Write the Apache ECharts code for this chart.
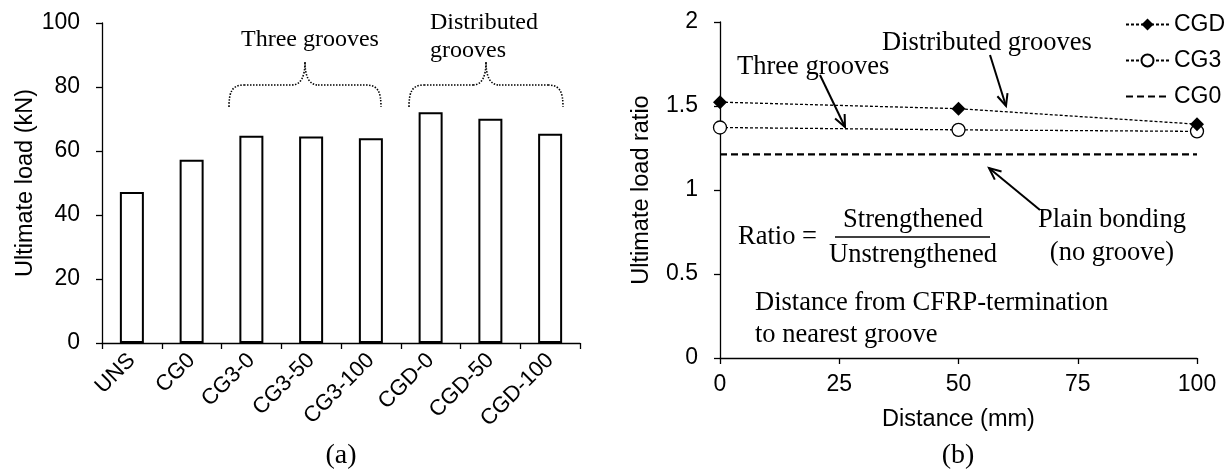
<!DOCTYPE html>
<html>
<head>
    <meta charset="utf-8">
    <title>Ultimate load / load ratio</title>
    <script src="https://cdn.jsdelivr.net/npm/echarts@6/dist/echarts.min.js"></script>
</head>
<body style="margin:0;background:#fff;">
    <div id="chart" style="width:1225px;height:473px;"></div>

    <script>
        // (a) ultimate load of each specimen
        const specimens = ['UNS', 'CG0', 'CG3-0', 'CG3-50', 'CG3-100', 'CGD-0', 'CGD-50', 'CGD-100'];
        const ultimateLoad = [47.2, 57.3, 64.8, 64.5, 64.0, 72.1, 70.1, 65.4];

        // (b) ultimate load ratio vs distance
        const distances = [0, 50, 100];
        const ratioCGD = [1.523, 1.484, 1.392];
        const ratioCG3 = [1.372, 1.358, 1.349];
        const ratioCG0 = 1.212;

        const sans = '"Liberation Sans", Arial, sans-serif';
        const serif = '"Liberation Serif", "Times New Roman", serif';

        const chart = echarts.init(document.getElementById('chart'));

        const axisCommon = {
            axisLine: { show: true, lineStyle: { color: '#000', width: 1.3 } },
            axisTick: { show: true, length: 6, lineStyle: { color: '#000', width: 1.3 } },
            splitLine: { show: false },
            nameLocation: 'middle',
            nameTextStyle: { fontSize: 23.5, fontFamily: sans, color: '#000' }
        };
        const labelCommon = { fontSize: 23, fontFamily: sans, color: '#000' };

        // helpers for the annotations
        const dotted = { stroke: '#000', fill: null, lineWidth: 1.6, lineDash: [1.5, 1.5] };
        function curve(a, c1, c2, b) {
            return { type: 'bezierCurve', shape: { x1: a[0], y1: a[1], cpx1: c1[0], cpy1: c1[1], cpx2: c2[0], cpy2: c2[1], x2: b[0], y2: b[1] }, style: dotted };
        }
        function seg(a, b) {
            return { type: 'line', shape: { x1: a[0], y1: a[1], x2: b[0], y2: b[1] }, style: dotted };
        }
        function brace(x0, x1, px) {
            const yb = 107, yh = 85, yp = 62;
            return [
                curve([x0, yb], [x0, yb - 15], [x0 + 3, yh], [x0 + 15, yh]),
                seg([x0 + 15, yh], [px - 13, yh]),
                curve([px - 13, yh], [px - 4, yh], [px, yh - 9], [px, yp]),
                curve([px, yp], [px, yh - 9], [px + 4, yh], [px + 13, yh]),
                seg([px + 13, yh], [x1 - 15, yh]),
                curve([x1 - 15, yh], [x1 - 3, yh], [x1, yb - 15], [x1, yb])
            ];
        }
        function arrow(x1, y1, x2, y2) {
            const len = Math.hypot(x2 - x1, y2 - y1);
            const ux = (x2 - x1) / len, uy = (y2 - y1) / len;
            const h = 13, a = 0.42;
            const c = Math.cos(a), s = Math.sin(a);
            const p1 = [x2 - h * (ux * c - uy * s), y2 - h * (uy * c + ux * s)];
            const p2 = [x2 - h * (ux * c + uy * s), y2 - h * (uy * c - ux * s)];
            return [
                { type: 'line', shape: { x1: x1, y1: y1, x2: x2, y2: y2 }, style: { stroke: '#000', lineWidth: 2 } },
                { type: 'polyline', shape: { points: [p1, [x2, y2], p2] }, style: { stroke: '#000', lineWidth: 2, fill: null } }
            ];
        }
        function label(text, x, y, size, align) {
            return {
                type: 'text', x: x, y: y,
                style: { text: text, font: size + 'px ' + serif, fill: '#000', textAlign: align || 'left', textVerticalAlign: 'middle' }
            };
        }

        const graphics = [
            label('Three grooves', 241, 40, 24),
            label('Distributed', 430, 23, 24),
            label('grooves', 430, 51, 24),
            label('(a)', 341, 456, 28, 'center'),
            label('(b)', 958, 456, 28, 'center'),
            label('Three grooves', 737, 67, 26.5),
            label('Distributed grooves', 882, 43, 26.5),
            label('Plain bonding', 1112, 220, 26.5, 'center'),
            label('(no groove)', 1112, 253, 26.5, 'center'),
            label('Ratio =', 738, 237, 26.5),
            label('Strengthened', 913, 220, 26.5, 'center'),
            label('Unstrengthened', 913, 255, 26.5, 'center'),
            { type: 'line', shape: { x1: 835, y1: 237, x2: 990, y2: 237 }, style: { stroke: '#000', lineWidth: 1.5 } },
            label('Distance from CFRP-termination', 755, 303, 26.5),
            label('to nearest groove', 755, 335, 26.5)
        ].concat(
            brace(229, 381, 305),
            brace(409, 563, 486),
            arrow(820, 75, 845, 127),
            arrow(990, 55, 1006, 106),
            arrow(1040, 210, 989, 168)
        );

        const option = {
            animation: false,
            textStyle: { fontFamily: sans, color: '#000' },
            grid: [
                { left: 102, top: 23, width: 478, height: 320, outerBoundsMode: 'none' },
                { left: 720, top: 22, width: 477, height: 336, outerBoundsMode: 'none' }
            ],
            legend: {
                data: ['CGD', 'CG3', 'CG0'],
                orient: 'vertical',
                left: 1120,
                top: 8,
                itemWidth: 43,
                itemHeight: 15,
                itemGap: 13,
                textStyle: { fontSize: 23, fontFamily: sans, color: '#000' }
            },
            xAxis: [
                Object.assign({}, axisCommon, {
                    type: 'category',
                    gridIndex: 0,
                    data: specimens,
                    axisLabel: Object.assign({}, labelCommon, { fontSize: 22, rotate: 45, margin: 14, interval: 0 })
                }),
                Object.assign({}, axisCommon, {
                    type: 'value',
                    gridIndex: 1,
                    min: 0, max: 100, interval: 25,
                    name: 'Distance (mm)',
                    nameGap: 50,
                    axisLabel: Object.assign({}, labelCommon, { margin: 15 })
                })
            ],
            yAxis: [
                Object.assign({}, axisCommon, {
                    type: 'value',
                    gridIndex: 0,
                    min: 0, max: 100, interval: 20,
                    name: 'Ultimate load (kN)',
                    nameGap: 64,
                    axisLabel: Object.assign({}, labelCommon, { margin: 22 })
                }),
                Object.assign({}, axisCommon, {
                    type: 'value',
                    gridIndex: 1,
                    min: 0, max: 2, interval: 0.5,
                    name: 'Ultimate load ratio',
                    nameGap: 66,
                    axisLabel: Object.assign({}, labelCommon, { margin: 22 })
                })
            ],
            series: [
                {
                    type: 'bar',
                    xAxisIndex: 0, yAxisIndex: 0,
                    data: ultimateLoad,
                    barWidth: 24,
                    itemStyle: { color: '#fff', borderColor: '#000', borderWidth: 2 }
                },
                {
                    name: 'CG0',
                    type: 'line',
                    xAxisIndex: 1, yAxisIndex: 1,
                    data: [[distances[0], ratioCG0], [distances[distances.length - 1], ratioCG0]],
                    showSymbol: false,
                    symbol: 'none',
                    lineStyle: { color: '#000', width: 2.4, type: [7, 4] },
                    itemStyle: { color: 'rgba(0,0,0,0)', borderWidth: 0 }
                },
                {
                    name: 'CG3',
                    type: 'line',
                    xAxisIndex: 1, yAxisIndex: 1,
                    data: distances.map((d, i) => [d, ratioCG3[i]]),
                    symbol: 'circle',
                    symbolSize: 13,
                    lineStyle: { color: '#000', width: 1.3, type: [3, 2] },
                    itemStyle: { color: '#fff', borderColor: '#000', borderWidth: 1.3 }
                },
                {
                    name: 'CGD',
                    type: 'line',
                    xAxisIndex: 1, yAxisIndex: 1,
                    data: distances.map((d, i) => [d, ratioCGD[i]]),
                    symbol: 'diamond',
                    symbolSize: 14,
                    lineStyle: { color: '#000', width: 1.3, type: [3, 2] },
                    itemStyle: { color: '#000' }
                }
            ],
            graphic: graphics
        };

        option && chart.setOption(option);
    </script>
</body>
</html>
